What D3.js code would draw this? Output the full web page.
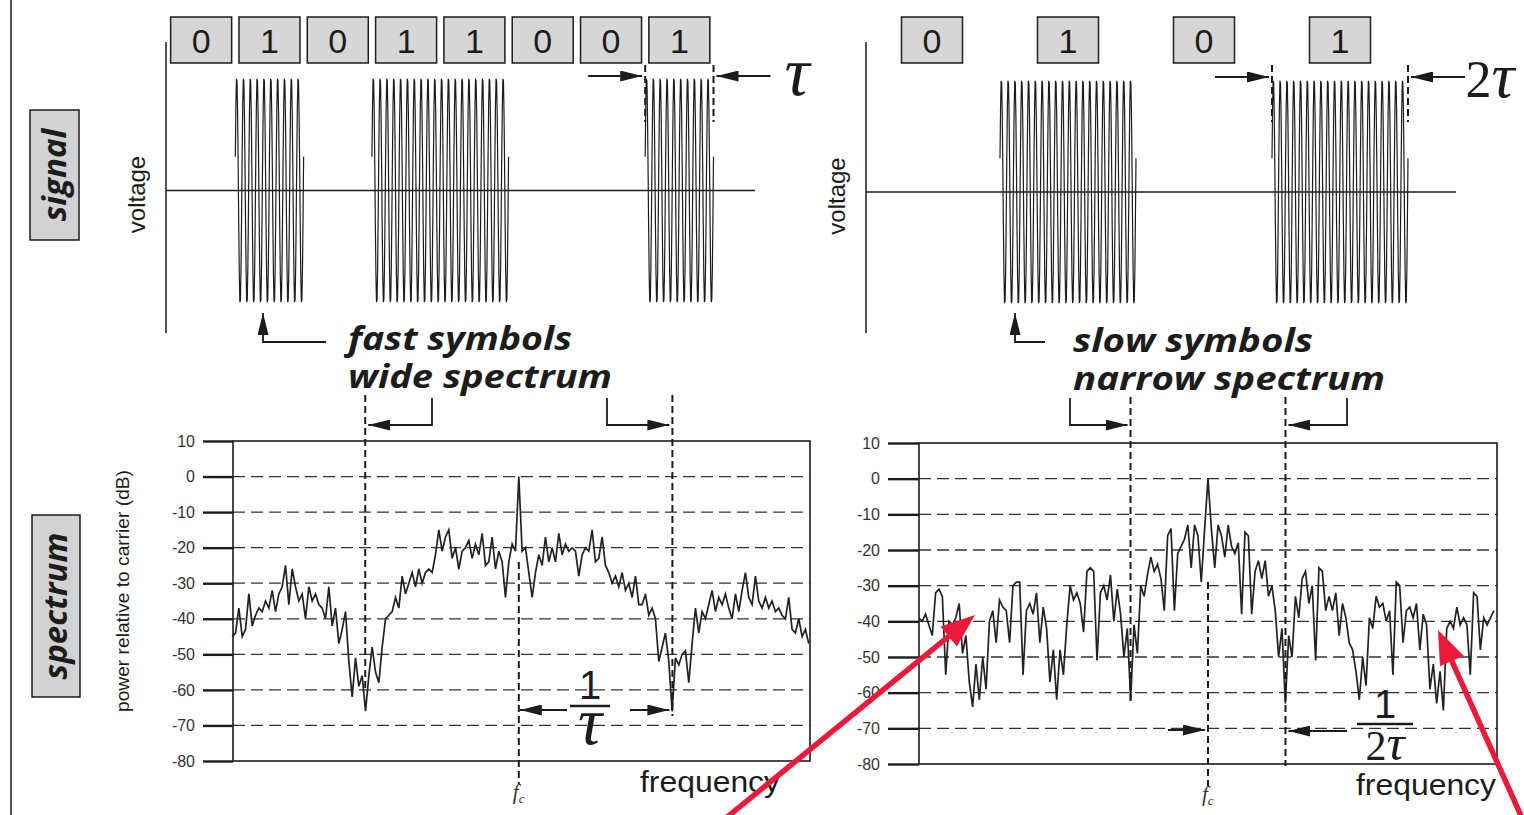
<!DOCTYPE html>
<html>
<head>
<meta charset="utf-8">
<script src="https://cdn.jsdelivr.net/npm/d3@7"></script>
<style>
  body { margin: 0; background: #fff; }
  svg { display: block; }
</style>
</head>
<body>
<svg width="1524" height="815"></svg>
<script>
// bits sent in each panel
const fastBits = [0, 1, 0, 1, 1, 0, 0, 1];
const slowBits = [0, 1, 0, 1];
// carrier cycles per symbol
const fastCycles = 10;
const slowCycles = 20;

// power axis ticks (dB)
const dbTicks = [10, 0, -10, -20, -30, -40, -50, -60, -70, -80];

// spectrum samples: spacing in units of 1/tau, carrier at sample 86
const fStep = 0.0217;
const fcIndex = 86;

// wide spectrum (fast symbols), dB relative to carrier
const wideDb = [
  -45, -44, -37, -45, -43, -33, -42, -39, -37, -38,
  -35, -37, -32, -38, -33, -31, -25, -36, -26, -31,
  -35, -33, -40, -31, -35, -33, -36, -37, -40, -31,
  -42, -37, -47, -43, -38, -52, -62, -51, -59, -56,
  -66, -56, -48, -55, -58, -48, -40, -39, -38, -34,
  -37, -28, -33, -30, -27, -31, -26, -30, -27, -26,
  -27, -22, -15, -21, -17, -15, -23, -20, -26, -21,
  -20, -18, -23, -19, -22, -16, -25, -24, -17, -26,
  -21, -24, -34, -24, -19, -21, 0, -21,
  -20, -27, -34, -27, -22, -25, -17, -24, -20, -24,
  -16, -22, -19, -21, -20, -21, -28, -22, -20, -21,
  -15, -24, -23, -17, -25, -27, -30, -28, -31, -27,
  -32, -30, -34, -28, -36, -36, -33, -39, -37, -40,
  -52, -48, -44, -52, -66, -51, -53, -50, -49, -58,
  -47, -37, -44, -38, -40, -36, -32, -38, -34, -36,
  -33, -37, -40, -33, -38, -32, -27, -34, -36, -28,
  -35, -37, -34, -37, -35, -38, -37, -39, -40, -34,
  -43, -44, -40, -45, -43, -47
];

// narrow spectrum (slow symbols), dB relative to carrier
const narrowDb = [
  -39, -40, -38, -41, -44, -32, -31, -33, -55, -40,
  -41, -39, -35, -49, -44, -57, -64, -52, -62, -50,
  -59, -40, -37, -46, -34, -36, -37, -46, -30, -29,
  -29, -55, -37, -35, -38, -32, -46, -36, -42, -57,
  -48, -62, -48, -55,
  -41, -30, -34, -32, -35, -43, -26, -25, -26, -51,
  -32, -30, -34, -27, -40, -31, -38, -50, -42, -62,
  -41, -49, -30, -33, -27, -22, -26, -24, -28, -37,
  -16, -14, -37, -21, -19, -17, -13, -25, -13, -16,
  -29, -14, 0,
  -14, -25, -13, -16, -22, -13, -19, -21, -18, -38,
  -15, -16, -38, -26, -23, -28, -23, -33, -30, -37,
  -50, -42, -63, -44, -50, -33, -39, -28, -26, -35,
  -30,
  -51, -25, -26, -37, -33, -37, -32, -44, -35, -39,
  -46, -48, -54, -62, -50, -58, -39, -42, -33, -36,
  -35, -40, -37, -55, -29, -30, -46, -37, -36, -39,
  -35, -48, -38, -41, -59, -52, -63, -54, -65, -42,
  -40, -42, -36, -41, -39, -41, -55, -32, -33, -48,
  -39, -41, -39, -37
];

const svg = d3.select("svg");
const ink = "#1c1c1c";
const sans = "'Liberation Sans', Arial, sans-serif";
const serif = "'Liberation Serif', 'Times New Roman', serif";
const italicSans = "'Open Sans', 'DejaVu Sans', sans-serif";

// arrowhead
svg.append("defs").append("marker")
  .attr("id", "head")
  .attr("viewBox", "0 0 10 10")
  .attr("refX", 10).attr("refY", 5)
  .attr("markerUnits", "userSpaceOnUse")
  .attr("markerWidth", 22).attr("markerHeight", 11)
  .attr("preserveAspectRatio", "none")
  .attr("orient", "auto")
  .append("path").attr("d", "M0,0L10,5L0,10Z").attr("fill", ink);

function arrow(points) {
  svg.append("path")
    .attr("d", d3.line()(points))
    .attr("fill", "none").attr("stroke", ink).attr("stroke-width", 1.8)
    .attr("marker-end", "url(#head)");
}

function dashed(x, y1, y2) {
  svg.append("line")
    .attr("x1", x).attr("x2", x).attr("y1", y1).attr("y2", y2)
    .attr("stroke", ink).attr("stroke-width", 2).attr("stroke-dasharray", "7,4");
}

// left border
svg.append("line").attr("x1", 11).attr("x2", 11).attr("y1", 0).attr("y2", 815)
  .attr("stroke", ink).attr("stroke-width", 1.5);

// row labels
function rowLabel(x, y, w, h, label) {
  svg.append("rect").attr("x", x).attr("y", y).attr("width", w).attr("height", h)
    .attr("fill", "#d2d2d2").attr("stroke", ink).attr("stroke-width", 1.5);
  svg.append("text")
    .attr("transform", `translate(${x + w / 2 + 11},${y + h / 2}) rotate(-90)`)
    .attr("text-anchor", "middle")
    .style("font-family", italicSans).style("font-style", "italic").style("font-weight", 700)
    .style("font-size", "33px").attr("fill", ink)
    .text(label);
}
rowLabel(30, 110, 49, 130, "signal");
rowLabel(32, 515, 48, 182, "spectrum");

// ---- signal panels ----
function signalPanel(bits, cycles, o) {
  const x = d3.scaleLinear().domain([0, bits.length]).range([o.x0, o.x1]);
  const y = d3.scaleLinear().domain([-1, 1]).range([o.bottom, o.top]);

  svg.append("line").attr("x1", o.axisX).attr("x2", o.axisX).attr("y1", 42).attr("y2", 333)
    .attr("stroke", ink).attr("stroke-width", 1.5);
  svg.append("line").attr("x1", o.axisX).attr("x2", o.zeroEnd).attr("y1", y(0)).attr("y2", y(0))
    .attr("stroke", ink).attr("stroke-width", 1.3);

  svg.append("text")
    .attr("transform", `translate(${o.axisX - 21},${y(0) + 4}) rotate(-90)`)
    .attr("text-anchor", "middle")
    .style("font-family", sans).style("font-size", "24px").attr("fill", ink)
    .text("voltage");

  // bit boxes
  const g = svg.append("g");
  g.selectAll("rect").data(bits).join("rect")
    .attr("x", (d, i) => x(i + 0.5) - 30.5).attr("y", 17)
    .attr("width", 61).attr("height", 46)
    .attr("fill", "#d6d6d6").attr("stroke", ink).attr("stroke-width", 1.5);
  g.selectAll("text").data(bits).join("text")
    .attr("x", (d, i) => x(i + 0.5)).attr("y", 53)
    .attr("text-anchor", "middle")
    .style("font-family", sans).style("font-size", "34px").attr("fill", ink)
    .text(d => d);

  // on-off keyed carrier bursts
  const line = d3.line().x(d => x(d[0])).y(d => y(d[1]));
  bits.forEach((b, k) => {
    if (!b) return;
    const n = cycles * 12;
    const pts = d3.range(n + 1).map(j => {
      const t = k + j / n;
      return [t, Math.sin(2 * Math.PI * cycles * t + 0.3)];
    });
    svg.append("path").attr("d", line(pts))
      .attr("fill", "none").attr("stroke", ink).attr("stroke-width", 1.2);
  });

  // symbol-length markers on the last symbol
  const a = x(bits.length - 1), b = x(bits.length);
  dashed(a, 65, 122);
  dashed(b, 65, 122);
  arrow([[a - 57, o.arrowY], [a - 3, o.arrowY]]);
  arrow([[b + 57, o.arrowY], [b + 3, o.arrowY]]);
  return x;
}

signalPanel(fastBits, fastCycles,
  { x0: 167, x1: 713.5, axisX: 166, zeroEnd: 755, top: 76, bottom: 305, arrowY: 76 });
signalPanel(slowBits, slowCycles,
  { x0: 864, x1: 1408, axisX: 866, zeroEnd: 1456, top: 78, bottom: 306, arrowY: 77 });

svg.append("text").attr("x", 797).attr("y", 95).attr("text-anchor", "middle")
  .style("font-family", serif).style("font-style", "italic").style("font-size", "70px")
  .attr("fill", ink).text("τ");
const twoTau = svg.append("text").attr("x", 1490).attr("y", 97).attr("text-anchor", "middle")
  .style("font-family", serif).style("font-size", "52px").attr("fill", ink);
twoTau.append("tspan").text("2");
twoTau.append("tspan").style("font-style", "italic").style("font-size", "64px").text("τ");

// captions between the rows
arrow([[326, 342], [263, 342], [263, 313]]);
arrow([[1045, 342], [1015, 342], [1015, 313]]);

function caption(x, y, len, label) {
  svg.append("text").attr("x", x).attr("y", y)
    .attr("textLength", len).attr("lengthAdjust", "spacingAndGlyphs")
    .style("font-family", italicSans).style("font-style", "italic").style("font-weight", 700)
    .style("font-size", "32px").attr("fill", ink)
    .text(label);
}
caption(348, 350, 224, "fast symbols");
caption(348, 388, 264, "wide spectrum");
caption(1073, 352, 240, "slow symbols");
caption(1073, 390, 312, "narrow spectrum");

// ---- spectrum panels ----
function spectrumPanel(db, o) {
  const x = d3.scaleLinear().domain([o.fMin, o.fMax]).range([o.left, o.right]);
  const y = d3.scaleLinear().domain([-80, 10]).range([o.bottom, o.top]);

  svg.append("g").selectAll("line")
    .data(dbTicks.filter(d => d < 10 && d > -80)).join("line")
    .attr("x1", o.left).attr("x2", o.right)
    .attr("y1", d => y(d)).attr("y2", d => y(d))
    .attr("stroke", "#333").attr("stroke-width", 1.3).attr("stroke-dasharray", "12,6");

  const ax = svg.append("g").attr("transform", `translate(${o.left},0)`)
    .call(d3.axisLeft(y).tickValues(dbTicks).tickSize(o.tick).tickPadding(8)
      .tickFormat(d => String(d)));
  ax.select(".domain").remove();
  ax.selectAll(".tick line").attr("stroke", ink).attr("stroke-width", 2.4);
  ax.selectAll(".tick text").style("font-family", sans).style("font-size", "16px").attr("fill", "#333");

  svg.append("rect").attr("x", o.left).attr("y", o.top)
    .attr("width", o.right - o.left).attr("height", o.bottom - o.top)
    .attr("fill", "none").attr("stroke", ink).attr("stroke-width", 1.6);

  const line = d3.line()
    .x((d, i) => x((i - fcIndex) * fStep))
    .y(d => y(d));
  svg.append("path").attr("d", line(db))
    .attr("fill", "none").attr("stroke", "#222").attr("stroke-width", 1.7);

  const fc = x(0), lo = x(-o.nullF), hi = x(o.nullF);
  dashed(lo, o.top - 46, o.loEnd);
  dashed(hi, o.top - 46, o.hiEnd);
  dashed(fc, o.fcStart, o.fcEnd);

  const fl = svg.append("text").attr("x", fc - 6).attr("y", o.fcEnd + 15)
    .style("font-family", serif).style("font-style", "italic").style("font-size", "21px")
    .attr("fill", "#333");
  fl.append("tspan").text("f");
  fl.append("tspan").attr("dy", 4).style("font-size", "13px").text("c");

  svg.append("text").attr("x", o.freqX).attr("y", o.bottom + 31)
    .attr("textLength", 140).attr("lengthAdjust", "spacingAndGlyphs")
    .style("font-family", sans).style("font-size", "29px").attr("fill", ink)
    .text("frequency");

  return { x, y, fc, lo, hi };
}

const wide = spectrumPanel(wideDb, {
  left: 233, right: 810, top: 441, bottom: 761, fMin: -1.861, fMax: 1.896,
  nullF: 1, tick: 30, loEnd: 690, hiEnd: 716, fcStart: 562, fcEnd: 784, freqX: 640
});
const narrow = spectrumPanel(narrowDb, {
  left: 919, right: 1497, top: 443, bottom: 764, fMin: -1.865, fMax: 1.865,
  nullF: 0.5, tick: 31, loEnd: 705, hiEnd: 766, fcStart: 582, fcEnd: 786, freqX: 1356
});

svg.append("text")
  .attr("transform", "translate(129,591) rotate(-90)")
  .attr("text-anchor", "middle").attr("textLength", 242).attr("lengthAdjust", "spacingAndGlyphs")
  .style("font-family", sans).style("font-size", "18px").attr("fill", ink)
  .text("power relative to carrier (dB)");

// bandwidth brackets above the spectra
arrow([[432, 398], [432, 425], [wide.lo + 3, 425]]);
arrow([[607, 398], [607, 425], [wide.hi - 3, 425]]);
arrow([[1070, 398], [1070, 425], [narrow.lo - 3, 425]]);
arrow([[1347, 398], [1347, 425], [narrow.hi + 3, 425]]);

// 1/tau and 1/2tau spacings
arrow([[567, 710], [wide.fc + 1, 710]]);
arrow([[630, 710], [wide.hi - 3, 710]]);
arrow([[1168, 730], [narrow.fc - 3, 730]]);
arrow([[1347, 731], [narrow.hi + 3, 731]]);

function fraction(cx, numY, barY, barW, denY, den, size) {
  svg.append("text").attr("x", cx).attr("y", numY).attr("text-anchor", "middle")
    .style("font-family", sans).style("font-size", "40px").attr("fill", ink).text("1");
  svg.append("line").attr("x1", cx - barW / 2).attr("x2", cx + barW / 2)
    .attr("y1", barY).attr("y2", barY).attr("stroke", ink).attr("stroke-width", 2.6);
  const t = svg.append("text").attr("x", cx).attr("y", denY).attr("text-anchor", "middle")
    .style("font-family", serif).style("font-size", size + "px").attr("fill", ink);
  if (den) t.append("tspan").text(den);
  t.append("tspan").style("font-style", "italic").style("font-size", (size * 1.2) + "px").text("τ");
}
fraction(590, 699, 706, 40, 744, "", 56);
fraction(1385, 718, 724, 56, 760, "2", 42);

// red call-out arrows
function redArrow(x1, y1, x2, y2) {
  const dx = x2 - x1, dy = y2 - y1, len = Math.hypot(dx, dy);
  const ux = dx / len, uy = dy / len, hl = 34, hw = 13;
  const bx = x2 - ux * hl, by = y2 - uy * hl;
  svg.append("line").attr("x1", x1).attr("y1", y1).attr("x2", bx + ux * 4).attr("y2", by + uy * 4)
    .attr("stroke", "#ec1a3a").attr("stroke-width", 5.5);
  svg.append("path")
    .attr("d", `M${x2},${y2}L${bx - uy * hw},${by + ux * hw}L${bx + uy * hw},${by - ux * hw}Z`)
    .attr("fill", "#ec1a3a");
}
redArrow(726, 818, 975, 615);
redArrow(1522, 818, 1438, 630);
</script>
</body>
</html>
